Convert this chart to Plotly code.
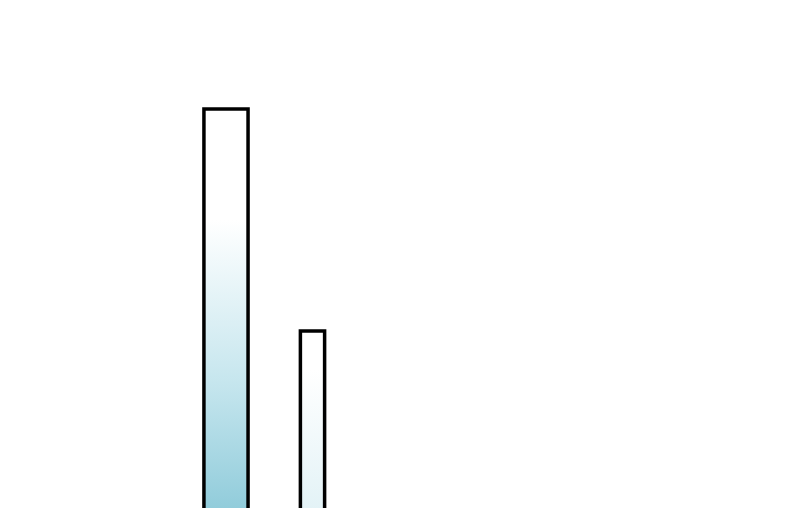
import plotly.graph_objects as go

# data
categories = ["A", "B"]
values = [92, 52]

# layout of the bars (pixel-matched to the reference)
centers = [0, 1]
widths = [0.51, 0.28]
gradients = [
    dict(start=19, stop=72, colorscale=[[0, "#8fcbda"], [0.45, "#c6e6ee"], [1, "#ffffff"]]),
    dict(start=19, stop=45, colorscale=[[0, "#e2f2f6"], [1, "#ffffff"]]),
]

fig = go.Figure()

for cat, v, c, w, g in zip(categories, values, centers, widths, gradients):
    x0, x1 = c - w / 2, c + w / 2
    fig.add_trace(go.Scatter(
        x=[x0, x0, x1, x1, x0],
        y=[0, v, v, 0, 0],
        mode="lines",
        fill="toself",
        fillgradient=dict(type="vertical", **g),
        line=dict(color="black", width=3.5),
        name=cat,
        hoverinfo="skip",
    ))

fig.update_layout(
    width=800,
    height=508,
    margin=dict(l=0, r=0, t=0, b=0),
    paper_bgcolor="white",
    plot_bgcolor="white",
    showlegend=False,
    xaxis=dict(visible=False, range=[-2.520, 6.728]),
    yaxis=dict(visible=False, range=[18.67, 110.2]),
)

fig.write_html("out.html")
